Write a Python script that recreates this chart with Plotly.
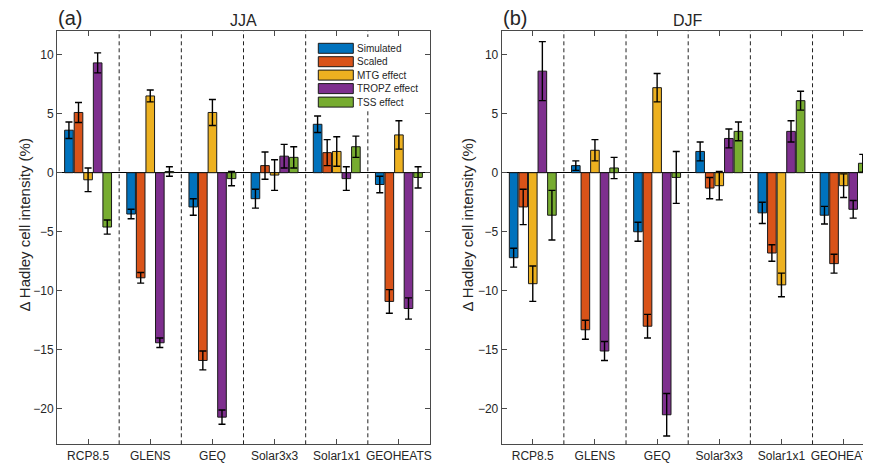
import plotly.graph_objects as go

# ---------------- data ----------------
categories = ["RCP8.5", "GLENS", "GEQ", "Solar3x3", "Solar1x1", "GEOHEATS"]
series_names = ["Simulated", "Scaled", "MTG effect", "TROPZ effect", "TSS effect"]
y_tick_values = [-20, -15, -10, -5, 0, 5, 10]

# JJA (panel a)
jja_simulated = [3.6, -3.5, -2.9, -2.2, 4.1, -1.0]
jja_simulated_err = [0.7, 0.4, 0.7, 0.8, 0.7, 0.7]
jja_scaled = [5.1, -8.9, -15.9, 0.6, 1.7, -10.9]
jja_scaled_err = [0.85, 0.45, 0.8, 1.15, 1.1, 1.0]
jja_mtg = [-0.6, 6.5, 5.1, -0.2, 1.8, 3.2]
jja_mtg_err = [1.0, 0.5, 1.1, 1.3, 1.25, 1.2]
jja_tropz = [9.3, -14.4, -20.7, 1.4, -0.5, -11.5]
jja_tropz_err = [0.85, 0.4, 0.6, 1.0, 1.0, 0.9]
jja_tss = [-4.6, 0.1, -0.5, 1.3, 2.2, -0.4]
jja_tss_err = [0.6, 0.4, 0.6, 0.9, 0.9, 0.9]

# DJF (panel b)
djf_simulated = [-7.2, 0.6, -5.0, 1.8, -3.4, -3.6]
djf_simulated_err = [0.8, 0.4, 0.8, 0.8, 0.9, 0.75]
djf_scaled = [-2.9, -13.3, -13.0, -1.3, -6.8, -7.7]
djf_scaled_err = [1.5, 0.8, 1.0, 0.9, 0.7, 0.8]
djf_mtg = [-9.4, 1.9, 7.2, -1.1, -9.5, -1.1]
djf_mtg_err = [1.5, 0.9, 1.2, 1.2, 1.0, 1.0]
djf_tropz = [8.6, -15.1, -20.5, 2.9, 3.5, -3.1]
djf_tropz_err = [2.5, 0.8, 1.8, 0.8, 0.9, 0.75]
djf_tss = [-3.6, 0.4, -0.4, 3.5, 6.1, 0.8]
djf_tss_err = [2.1, 0.9, 2.2, 0.8, 0.8, 0.75]

colors = ["#0072BD", "#D95319", "#EDB120", "#7E2F8E", "#77AC30"]

jja = [(jja_simulated, jja_simulated_err), (jja_scaled, jja_scaled_err),
       (jja_mtg, jja_mtg_err), (jja_tropz, jja_tropz_err), (jja_tss, jja_tss_err)]
djf = [(djf_simulated, djf_simulated_err), (djf_scaled, djf_scaled_err),
       (djf_mtg, djf_mtg_err), (djf_tropz, djf_tropz_err), (djf_tss, djf_tss_err)]

# ---------------- layout helpers (page pixels) ----------------
PAGE_W, PAGE_H = 871, 467
OFF = 8  # default page body margin
W, H = PAGE_W - OFF, PAGE_H - OFF
def px(x):
    return (x - OFF) / W
def py(y):
    return 1 - (y - OFF) / H

FONT = "Liberation Sans, Arial, sans-serif"
TXT = "#262626"
AXC = "#4a4a4a"

xpos = list(range(1, len(categories) + 1))

fig = go.Figure()

for panel, (data, xa, ya) in enumerate([(jja, "x", "y"), (djf, "x2", "y2")]):
    for i, (vals, errs) in enumerate(data):
        fig.add_trace(go.Bar(
            x=xpos, y=vals, name=series_names[i],
            marker=dict(color=colors[i], line=dict(color="#1a1a1a", width=1)),
            error_y=dict(type="data", array=errs, visible=True,
                         color="black", thickness=1.4, width=3.5),
            xaxis=xa, yaxis=ya, showlegend=False,
            offsetgroup=str(i),
        ))

left_l, left_r = 57, 430
right_left = 501.7
spacing = (left_r - left_l) / len(categories)
right_full_end = right_left + spacing * len(categories)
right_range_end = 0.5 + (PAGE_W - right_left) / spacing
left_dom = [px(left_l), px(left_r)]
right_dom = [px(right_left), 1.0]
y_dom = [py(444.3), py(31)]

common_x = dict(
    tickmode="array", tickvals=xpos, ticktext=categories,
    ticks="inside", ticklen=5, tickcolor=AXC, showline=True, linecolor=AXC,
    linewidth=1, mirror="ticks", showgrid=False, zeroline=False,
    tickfont=dict(family=FONT, size=12, color=TXT), automargin=False,
    fixedrange=True, ticklabeloverflow="allow",
)
common_y = dict(
    range=[-23, 12], tickmode="array", tickvals=y_tick_values,
    ticks="inside", ticklen=5, tickcolor=AXC, showline=True, linecolor=AXC,
    linewidth=1, showgrid=False, zeroline=True, zerolinecolor="black",
    zerolinewidth=1, tickfont=dict(family=FONT, size=12, color=TXT),
    automargin=False, fixedrange=True,
)

fig.update_layout(
    width=W, height=H,
    margin=dict(l=0, r=0, t=0, b=0),
    paper_bgcolor="white", plot_bgcolor="white",
    barmode="group", bargap=0.23, bargroupgap=0.1,
    showlegend=False,
    xaxis=dict(domain=left_dom, range=[0.5, len(categories) + 0.5], anchor="y", **common_x),
    yaxis=dict(domain=y_dom, anchor="x", mirror="ticks", **common_y),
    xaxis2=dict(domain=right_dom, range=[0.5, right_range_end], anchor="y2", **common_x),
    yaxis2=dict(domain=y_dom, anchor="x2", mirror=False, **common_y),
)

shapes = []
# dashed separators between groups
for xa in ["x", "x2"]:
    for k in range(1, len(categories)):
        shapes.append(dict(type="line", xref=xa, yref=xa.replace("x", "y") + " domain",
                           x0=k + 0.5, x1=k + 0.5, y0=0, y1=1,
                           line=dict(color="#222222", width=1, dash="4px,3px")))

# custom legend (panel a) with opaque white background
shapes.append(dict(type="rect", xref="paper", yref="paper",
                   x0=px(313), x1=px(424), y0=py(109), y1=py(37),
                   fillcolor="white", line=dict(width=0)))
leg_x0, leg_x1 = 318.3, 353.3
leg_rows = [48.3, 61.7, 75.1, 88.6, 102.1]
annotations = []
for i, name in enumerate(series_names):
    yc = leg_rows[i]
    shapes.append(dict(type="rect", xref="paper", yref="paper",
                       x0=px(leg_x0), x1=px(leg_x1), y0=py(yc + 5), y1=py(yc - 5),
                       fillcolor=colors[i], line=dict(color="#1a1a1a", width=1)))
    annotations.append(dict(text=name, xref="paper", yref="paper",
                            x=px(leg_x1 + 2), y=py(yc), xanchor="left", yanchor="middle",
                            showarrow=False, font=dict(family=FONT, size=10, color=TXT)))

# titles and panel labels
annotations += [
    dict(text="JJA", xref="paper", yref="paper", x=px((left_l + left_r) / 2), y=py(20),
         xanchor="center", yanchor="middle", showarrow=False,
         font=dict(family=FONT, size=16, color=TXT)),
    dict(text="DJF", xref="paper", yref="paper", x=px((right_left + right_full_end) / 2), y=py(20),
         xanchor="center", yanchor="middle", showarrow=False,
         font=dict(family=FONT, size=16, color=TXT)),
    dict(text="(a)", xref="paper", yref="paper", x=px(56), y=py(17.5),
         xanchor="left", yanchor="middle", showarrow=False,
         font=dict(family=FONT, size=20, color=TXT)),
    dict(text="(b)", xref="paper", yref="paper", x=px(500.5), y=py(17.5),
         xanchor="left", yanchor="middle", showarrow=False,
         font=dict(family=FONT, size=20, color=TXT)),
    dict(text="\u0394 Hadley cell intensity (%)", xref="paper", yref="paper",
         x=px(24), y=py(225.5), textangle=-90, xanchor="center", yanchor="middle",
         showarrow=False, font=dict(family=FONT, size=15, color=TXT)),
    dict(text="\u0394 Hadley cell intensity (%)", xref="paper", yref="paper",
         x=px(467), y=py(225.5), textangle=-90, xanchor="center", yanchor="middle",
         showarrow=False, font=dict(family=FONT, size=15, color=TXT)),
]

fig.update_layout(shapes=shapes, annotations=annotations)
fig.write_html("out.html")
